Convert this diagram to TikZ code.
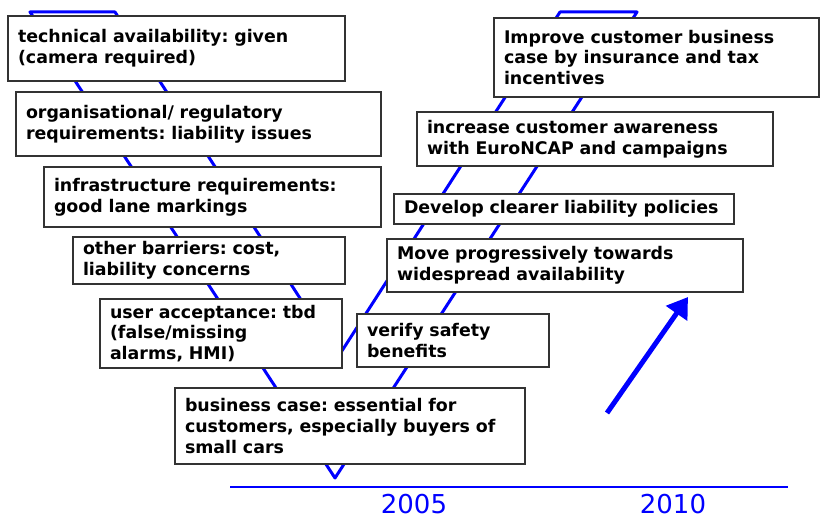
\documentclass[tikz,border=0pt]{standalone}
\usepackage{fontspec}
\setmainfont{DejaVu Sans}
\usetikzlibrary{arrows.meta}
\definecolor{vblue}{RGB}{0,0,255}
\frenchspacing
\begin{document}
\begin{tikzpicture}[x=1pt,y=-1pt,
  card/.style={draw=black!80, line width=1.2pt, fill=white, anchor=north west,
    align=left, inner xsep=10pt, inner ysep=0pt, outer sep=0pt,
    font=\fontsize{17.4}{20.8}\selectfont\bfseries},
  year/.style={text=vblue, font=\fontsize{26}{30}\selectfont, anchor=base, inner sep=0pt},
  funnel/.style={draw=vblue, line width=3pt, line join=round},
  trend/.style={draw=vblue, line width=5pt, -{Triangle[length=20pt,width=25pt]}},
  axis/.style={draw=vblue, line width=1.5pt}]
\useasboundingbox (0,0) rectangle (820,516);

% the funnel band behind the boxes
\draw[funnel] (30,12) -- (115,12) -- (338,357) -- (560,12) -- (637,12) -- (335,478) -- cycle;

% barriers (left arm)
\node[card, text width=317pt, minimum height=65pt] (tech) at (8,16)
  {technical availability: given\\(camera required)};
\node[card, text width=345pt, minimum height=64pt] (org) at (16,92)
  {organisational/ regulatory\\requirements: liability issues};
\node[card, text width=317pt, minimum height=60pt] (infra) at (44,167)
  {infrastructure requirements:\\good lane markings};
\node[card, text width=252pt, minimum height=47pt] (other) at (73,237)
  {other barriers: cost,\\liability concerns};
\node[card, text width=222pt, minimum height=69pt] (user) at (100,299)
  {user acceptance: tbd\\(false/missing\\alarms, HMI)};
\node[card, text width=330pt, minimum height=76pt] (busi) at (175,388)
  {business case: essential for\\customers, especially buyers of\\small cars};

% measures (right arm)
\node[card, text width=172pt, minimum height=53pt] (verify) at (357,314)
  {verify safety\\benefits};
\node[card, text width=336pt, minimum height=53pt] (move) at (387,239)
  {Move progressively towards\\widespread availability};
\node[card, text width=320pt, minimum height=30pt] (policy) at (394,194)
  {Develop clearer liability policies};
\node[card, text width=336pt, minimum height=54pt] (aware) at (417,112)
  {increase customer awareness\\with EuroNCAP and campaigns};
\node[card, text width=305pt, minimum height=79pt] (improve) at (494,18)
  {Improve customer business\\case by insurance and tax\\incentives};

% upward trend arrow
\coordinate (trendS) at (607,413);
\coordinate (trendE) at (688,297);
\draw[trend] (trendS) -- (trendE);

% time axis
\coordinate (axL) at (230,487);
\coordinate (axR) at (788,487);
\draw[axis] (axL) -- (axR);
\node[year] (y2005) at (414,513) {2005};
\node[year] (y2010) at (673,513) {2010};
\end{tikzpicture}
\end{document}
